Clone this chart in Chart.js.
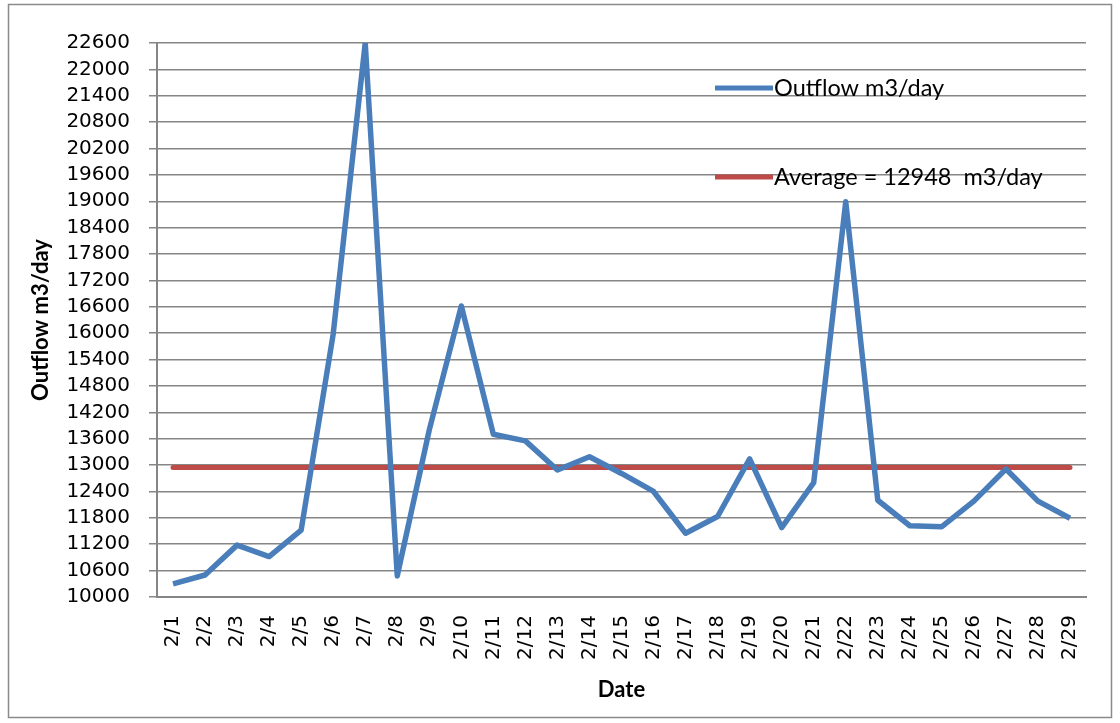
<!DOCTYPE html>
<html>
<head>
<meta charset="utf-8">
<script src="https://cdn.jsdelivr.net/npm/chart.js@4/dist/chart.umd.min.js"></script>
<style>
  html, body { margin: 0; padding: 0; background: #fff; }
  #wrap { width: 1120px; height: 723px; }
</style>
</head>
<body>
<div id="wrap"><canvas id="grafico-outflow" width="1120" height="723"></canvas></div>
<script>
// dias do mes de fevereiro
const dias = ['2/1','2/2','2/3','2/4','2/5','2/6','2/7','2/8','2/9','2/10',
  '2/11','2/12','2/13','2/14','2/15','2/16','2/17','2/18','2/19','2/20',
  '2/21','2/22','2/23','2/24','2/25','2/26','2/27','2/28','2/29'];

// vazao (m3/dia)
const outflow = [10300, 10500, 11180, 10920, 11520, 15980, 22600, 10480, 13800, 16620,
  13700, 13550, 12890, 13190, 12810, 12400, 11450, 11830, 13140, 11580,
  12600, 18990, 12200, 11620, 11600, 12180, 12910, 12180, 11790];

const media = 12948;
const yMin = 10000;
const yMax = 22600;
const yPasso = 600;

const legendaTextos = ['Outflow m3/day', 'Average = 12948  m3/day'];

// linha da media vai do primeiro ao ultimo dia
const mediaPontos = [
  { x: dias[0], y: media },
  { x: dias[dias.length - 1], y: media }
];

const azul = '#4a7ebb';
const vermelho = '#be4b48';
const cinza = '#868686';

// moldura externa e legenda dentro da area do grafico
const molduraELegenda = {
  id: 'molduraELegenda',
  afterDraw(chart) {
    const ctx = chart.ctx;
    ctx.save();
    ctx.strokeStyle = '#8a8a8a';
    ctx.lineWidth = 1.5;
    ctx.strokeRect(8.5, 4.5, 1103, 713);

    const itens = [
      { cor: azul, y: 88, texto: chart.data.datasets[0].label },
      { cor: vermelho, y: 177, texto: chart.data.datasets[1].label }
    ];
    itens.forEach((item) => {
      ctx.strokeStyle = item.cor;
      ctx.lineWidth = 5;
      ctx.lineCap = 'butt';
      ctx.beginPath();
      ctx.moveTo(715, item.y);
      ctx.lineTo(773, item.y);
      ctx.stroke();
      ctx.fillStyle = '#000';
      ctx.font = '23.5px Lato';
      ctx.textBaseline = 'middle';
      ctx.fillText(item.texto, 774, item.y);
    });
    ctx.restore();
  }
};

const grafico = document.querySelector('#grafico-outflow').getContext('2d');

new Chart(grafico, {
  type: 'line',
  data: {
    labels: dias,
    datasets: [
      {
        label: legendaTextos[0],
        data: outflow,
        borderColor: azul,
        borderWidth: 5.5,
        pointRadius: 0,
        borderJoinStyle: 'round',
        tension: 0
      },
      {
        label: legendaTextos[1],
        data: mediaPontos,
        borderColor: vermelho,
        borderWidth: 5,
        pointRadius: 0,
        borderCapStyle: 'round'
      }
    ]
  },
  options: {
    responsive: false,
    animation: false,
    layout: { padding: { top: 43, right: 34, bottom: 0, left: 0 } },
    plugins: {
      legend: { display: false },
      tooltip: { enabled: false }
    },
    scales: {
      x: {
        offset: true,
        grid: { display: false, drawTicks: false },
        border: { display: true, color: cinza, width: 2 },
        ticks: {
          autoSkip: false,
          minRotation: 90,
          maxRotation: 90,
          padding: 18,
          color: '#000',
          font: { family: 'DejaVu Sans', size: 20 }
        },
        title: {
          display: true,
          text: 'Date',
          color: '#000',
          font: { family: 'Lato', size: 22, weight: 'bold' },
          padding: { top: 0, bottom: 20 }
        },
        afterFit(scale) { scale.height = 126; }
      },
      y: {
        min: yMin,
        max: yMax,
        grid: { color: cinza, lineWidth: 1.5, tickLength: 8 },
        border: { display: true, color: cinza, width: 2 },
        ticks: {
          stepSize: yPasso,
          autoSkip: false,
          padding: 19,
          color: '#000',
          font: { family: 'DejaVu Sans', size: 20 },
          callback: (valor) => String(valor)
        },
        title: {
          display: true,
          text: 'Outflow m3/day',
          color: '#000',
          font: { family: 'Lato', size: 22, weight: 'bold' },
          padding: { top: 28, bottom: 0 }
        },
        afterFit(scale) { scale.width = 157; }
      }
    }
  },
  plugins: [molduraELegenda]
});
</script>
</body>
</html>
